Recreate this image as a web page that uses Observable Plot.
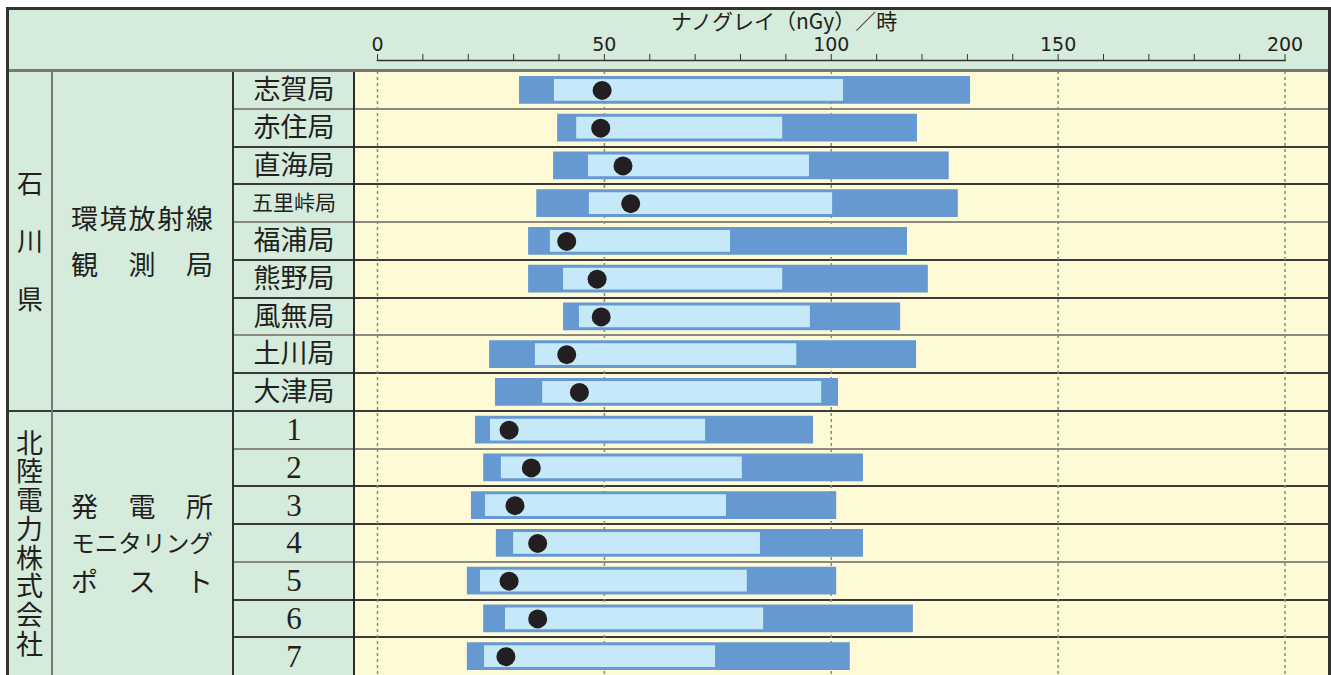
<!DOCTYPE html>
<html><head><meta charset="utf-8">
<script src="https://cdn.jsdelivr.net/npm/d3@7"></script>
<script src="https://cdn.jsdelivr.net/npm/@observablehq/plot@0.6"></script>
<style>
body{margin:0;background:#fff;}
#wrap{position:relative;width:1331px;height:675px;overflow:hidden;font-family:"Noto Sans CJK JP",sans-serif;color:#231f20;}
.abs{position:absolute;}
.vcol{display:flex;flex-direction:column;align-items:center;justify-content:center;}
.line{display:flex;justify-content:space-between;align-items:center;}
.vert{writing-mode:vertical-rl;text-orientation:upright;white-space:nowrap;}
</style></head><body><div id="wrap"></div>
<script>
// ---- data ----
const stations = ["志賀局","赤住局","直海局","五里峠局","福浦局","熊野局","風無局","土川局","大津局","1","2","3","4","5","6","7"];
const rangeMin = [31.3, 39.7, 38.8, 35.1, 33.3, 33.3, 41.0, 24.7, 26.0, 21.6, 23.4, 20.7, 26.2, 19.8, 23.4, 19.8];
const rangeMax = [130.7, 119.0, 126.0, 128.0, 116.8, 121.4, 115.3, 118.8, 101.6, 96.1, 107.1, 101.2, 107.1, 101.2, 118.1, 104.2];
const innerMin = [39.0, 43.9, 46.5, 46.7, 38.1, 41.0, 44.5, 34.8, 36.4, 24.9, 27.3, 23.8, 30.0, 22.7, 28.2, 23.6];
const innerMax = [102.7, 89.3, 95.2, 100.3, 77.8, 89.3, 95.4, 92.4, 97.9, 72.3, 80.4, 76.9, 84.4, 81.5, 85.1, 74.5];
const meanVal  = [49.5, 49.2, 54.1, 55.8, 41.7, 48.4, 49.3, 41.7, 44.5, 29.0, 33.9, 30.3, 35.3, 29.0, 35.3, 28.3];
const majorTicks = [0, 50, 100, 150, 200];
const allTicks = [0,10,20,30,40,50,60,70,80,90,100,110,120,130,140,150,160,170,180,190,200];
const groupPref = ["石川県", "北陸電力株式会社"];
const groupType = [["環境放射線", "観測局"], ["発電所", "モニタリング", "ポスト"]];
const groupSize = [9, 7];
const axisTitle = "ナノグレイ（nGy）／時";

// ---- layout ----
const W = 1331, H = 675;
const X0 = 377, X200 = 1284.5, AXIS_Y = 60, ROW_TOP = 71;
const L = 7, T = 8, R = 1329, C1 = 52, C2 = 233, C3 = 354;
const GREEN = "#d5ebdc", YELLOW = "#fffad6";

const wrap = document.getElementById("wrap");
function box(l, t, w, h, bg, cls) {
  const d = document.createElement("div");
  d.className = "abs" + (cls ? " " + cls : "");
  Object.assign(d.style, {left: l + "px", top: t + "px", width: w + "px", height: h + "px"});
  if (bg) d.style.background = bg;
  wrap.appendChild(d);
  return d;
}

const data = stations.map((s, i) => ({station: s, lo: rangeMin[i], hi: rangeMax[i], ilo: innerMin[i], ihi: innerMax[i], mean: meanVal[i]}));
const names = stations.filter(s => isNaN(+s));
const nums = stations.filter(s => !isNaN(+s));

const plot = Plot.plot({
  width: W, height: H,
  marginLeft: X0, marginRight: W - X200, marginTop: AXIS_Y, marginBottom: 0,
  x: {domain: [0, 200], range: [X0, X200]},
  y: {type: "band", domain: stations, range: [ROW_TOP, H], padding: 0, round: false, axis: null},
  style: {background: "transparent", overflow: "visible", color: "#231f20", fontFamily: "'DejaVu Sans', sans-serif"},
  marks: [
    Plot.ruleX(majorTicks, {stroke: "#8a8a8a", strokeWidth: 1.5, strokeDasharray: "3,3", insetTop: ROW_TOP - AXIS_Y}),
    Plot.barX(data, {y: "station", x1: "lo", x2: "hi", fill: "#6699d1", insetTop: 5, insetBottom: 5}),
    Plot.barX(data, {y: "station", x1: "ilo", x2: "ihi", fill: "#c5e9f8", insetTop: 8, insetBottom: 8}),
    Plot.dot(data, {y: "station", x: "mean", r: 9.5, fill: "#231f20"}),
    Plot.frame({anchor: "top", stroke: "#333", strokeWidth: 1.5}),
    Plot.axisX({anchor: "top", ticks: allTicks, tickSize: 7, tickPadding: 3, fontSize: 19,
      tickFormat: d => majorTicks.includes(d) ? d : "", label: null, stroke: "#333"}),
    Plot.text(names, {y: d => d, frameAnchor: "left", dx: -(X0 - (C2 + C3) / 2), textAnchor: "middle",
      fontSize: d => d.length > 3 ? 21 : 27, fontFamily: "'Noto Sans CJK JP'", fill: "#231f20"}),
    Plot.text(nums, {y: d => d, frameAnchor: "left", dx: -(X0 - (C2 + C3) / 2), textAnchor: "middle",
      fontSize: 31, fontFamily: "'Liberation Serif', serif", fill: "#231f20"})
  ]
});
plot.style.position = "absolute";
plot.style.left = "0px";
plot.style.top = "0px";

const y = plot.scale("y");
const bw = y.bandwidth;

// backgrounds
box(L, T, R - L, H - T, GREEN);
box(C3, ROW_TOP, R - C3, H - ROW_TOP, YELLOW);
// row lines
for (let i = 1; i < stations.length; i++) {
  const yy = y.apply(stations[i]);
  const isGroup = i === groupSize[0];
  box(isGroup ? L : C2, yy - 1, R - (isGroup ? L : C2), 2, i % 3 === 1 ? "#8a8a7e" : "#3a3a3a");
}
// column lines
box(C1 - 1, ROW_TOP, 2, H - ROW_TOP, "#777");
box(C2 - 1, ROW_TOP, 2, H - ROW_TOP, "#333");
box(C3 - 1, ROW_TOP, 2, H - ROW_TOP, "#2a2a2a");
// header bottom
box(L, ROW_TOP - 2, R - L, 2.5, "#777");
// outer border
box(L - 1, T - 1, R - L + 2, 2.5, "#333");
box(L - 1, T - 1, 2.5, H - T + 1, "#333");
box(R - 1, T - 1, 2.5, H - T + 1, "#333");

wrap.appendChild(plot);

// title
const t = box(671, 10, 240, 21);
t.textContent = axisTitle;
Object.assign(t.style, {fontSize: "21px", lineHeight: "21px", whiteSpace: "nowrap"});

// group labels
const prefStep = [58, 28.7], typeLH = [46, 37.5], prefFS = [26, 27];
let start = 0;
groupPref.forEach((p, g) => {
  const top = y.apply(stations[start]);
  const last = start + groupSize[g] - 1;
  let bottom = y.apply(stations[last]) + bw;
  if (bottom > H) bottom = H;
  const h = bottom - top;
  const pc = box(L, top, C1 - L, h, null, "vcol");
  const v = document.createElement("div");
  v.className = "vert";
  v.textContent = p;
  Object.assign(v.style, {fontSize: prefFS[g] + "px", letterSpacing: (prefStep[g] - prefFS[g]) + "px",
    lineHeight: "1", marginBottom: -(prefStep[g] - prefFS[g]) + "px"});
  pc.appendChild(v);
  const tc = box(71, top, 142, h, null, "vcol");
  tc.style.alignItems = "stretch";
  groupType[g].forEach(line => {
    const ln = document.createElement("div");
    ln.className = "line";
    const fs = Math.min(27, 142 / line.length);
    Object.assign(ln.style, {fontSize: fs + "px", lineHeight: typeLH[g] + "px", height: typeLH[g] + "px"});
    [...line].forEach(ch => { const s = document.createElement("span"); s.textContent = ch; ln.appendChild(s); });
    tc.appendChild(ln);
  });
  start += groupSize[g];
});
</script>
</body></html>
